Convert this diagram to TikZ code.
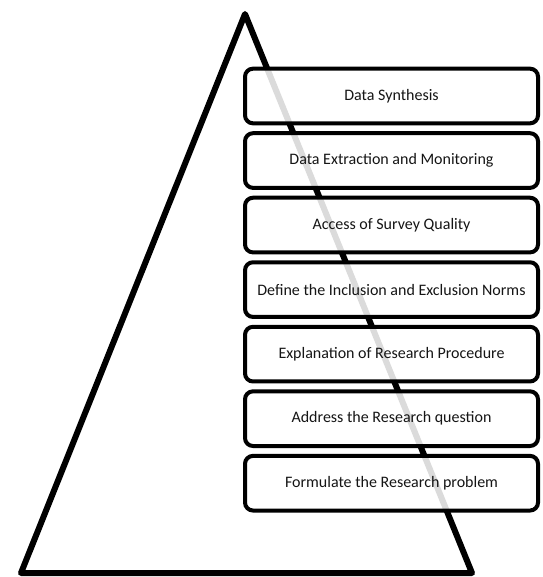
\documentclass[tikz,border=0pt]{standalone}
\usepackage{fontspec}
\setmainfont{Carlito}
\usetikzlibrary{positioning}
\definecolor{inkgray}{HTML}{151515}

\begin{document}
\begin{tikzpicture}[
  x=0.75pt, y=-0.75pt,
  stage/.style={draw=black, line width=3pt, rounded corners=6pt,
                fill=white, fill opacity=0.86, text opacity=1,
                minimum width=219.75pt, minimum height=41pt,
                font=\fontsize{12}{14}\selectfont, text=inkgray},
  pyramid/.style={draw=black, line width=4.5pt, line join=round},
]
\useasboundingbox (0,0) rectangle (542,577);

% the pyramid
\coordinate (apex) at (245,14);
\coordinate (baseL) at (21,573);
\coordinate (baseR) at (472,573);
\draw[pyramid] (apex) -- (baseL) -- (baseR) -- cycle;

% the steps, top to bottom
\node[stage] (s1) at (391.5,96) {Data Synthesis};
\node[stage, below=4.4pt of s1] (s2) {Data Extraction and Monitoring};
\node[stage, below=4.4pt of s2] (s3) {Access of Survey Quality};
\node[stage, below=4.4pt of s3] (s4) {Define the Inclusion and Exclusion Norms};
\node[stage, below=4.4pt of s4] (s5) {Explanation of Research Procedure};
\node[stage, below=4.4pt of s5] (s6) {Address the Research question};
\node[stage, below=4.4pt of s6] (s7) {Formulate the Research problem};
\end{tikzpicture}
\end{document}
